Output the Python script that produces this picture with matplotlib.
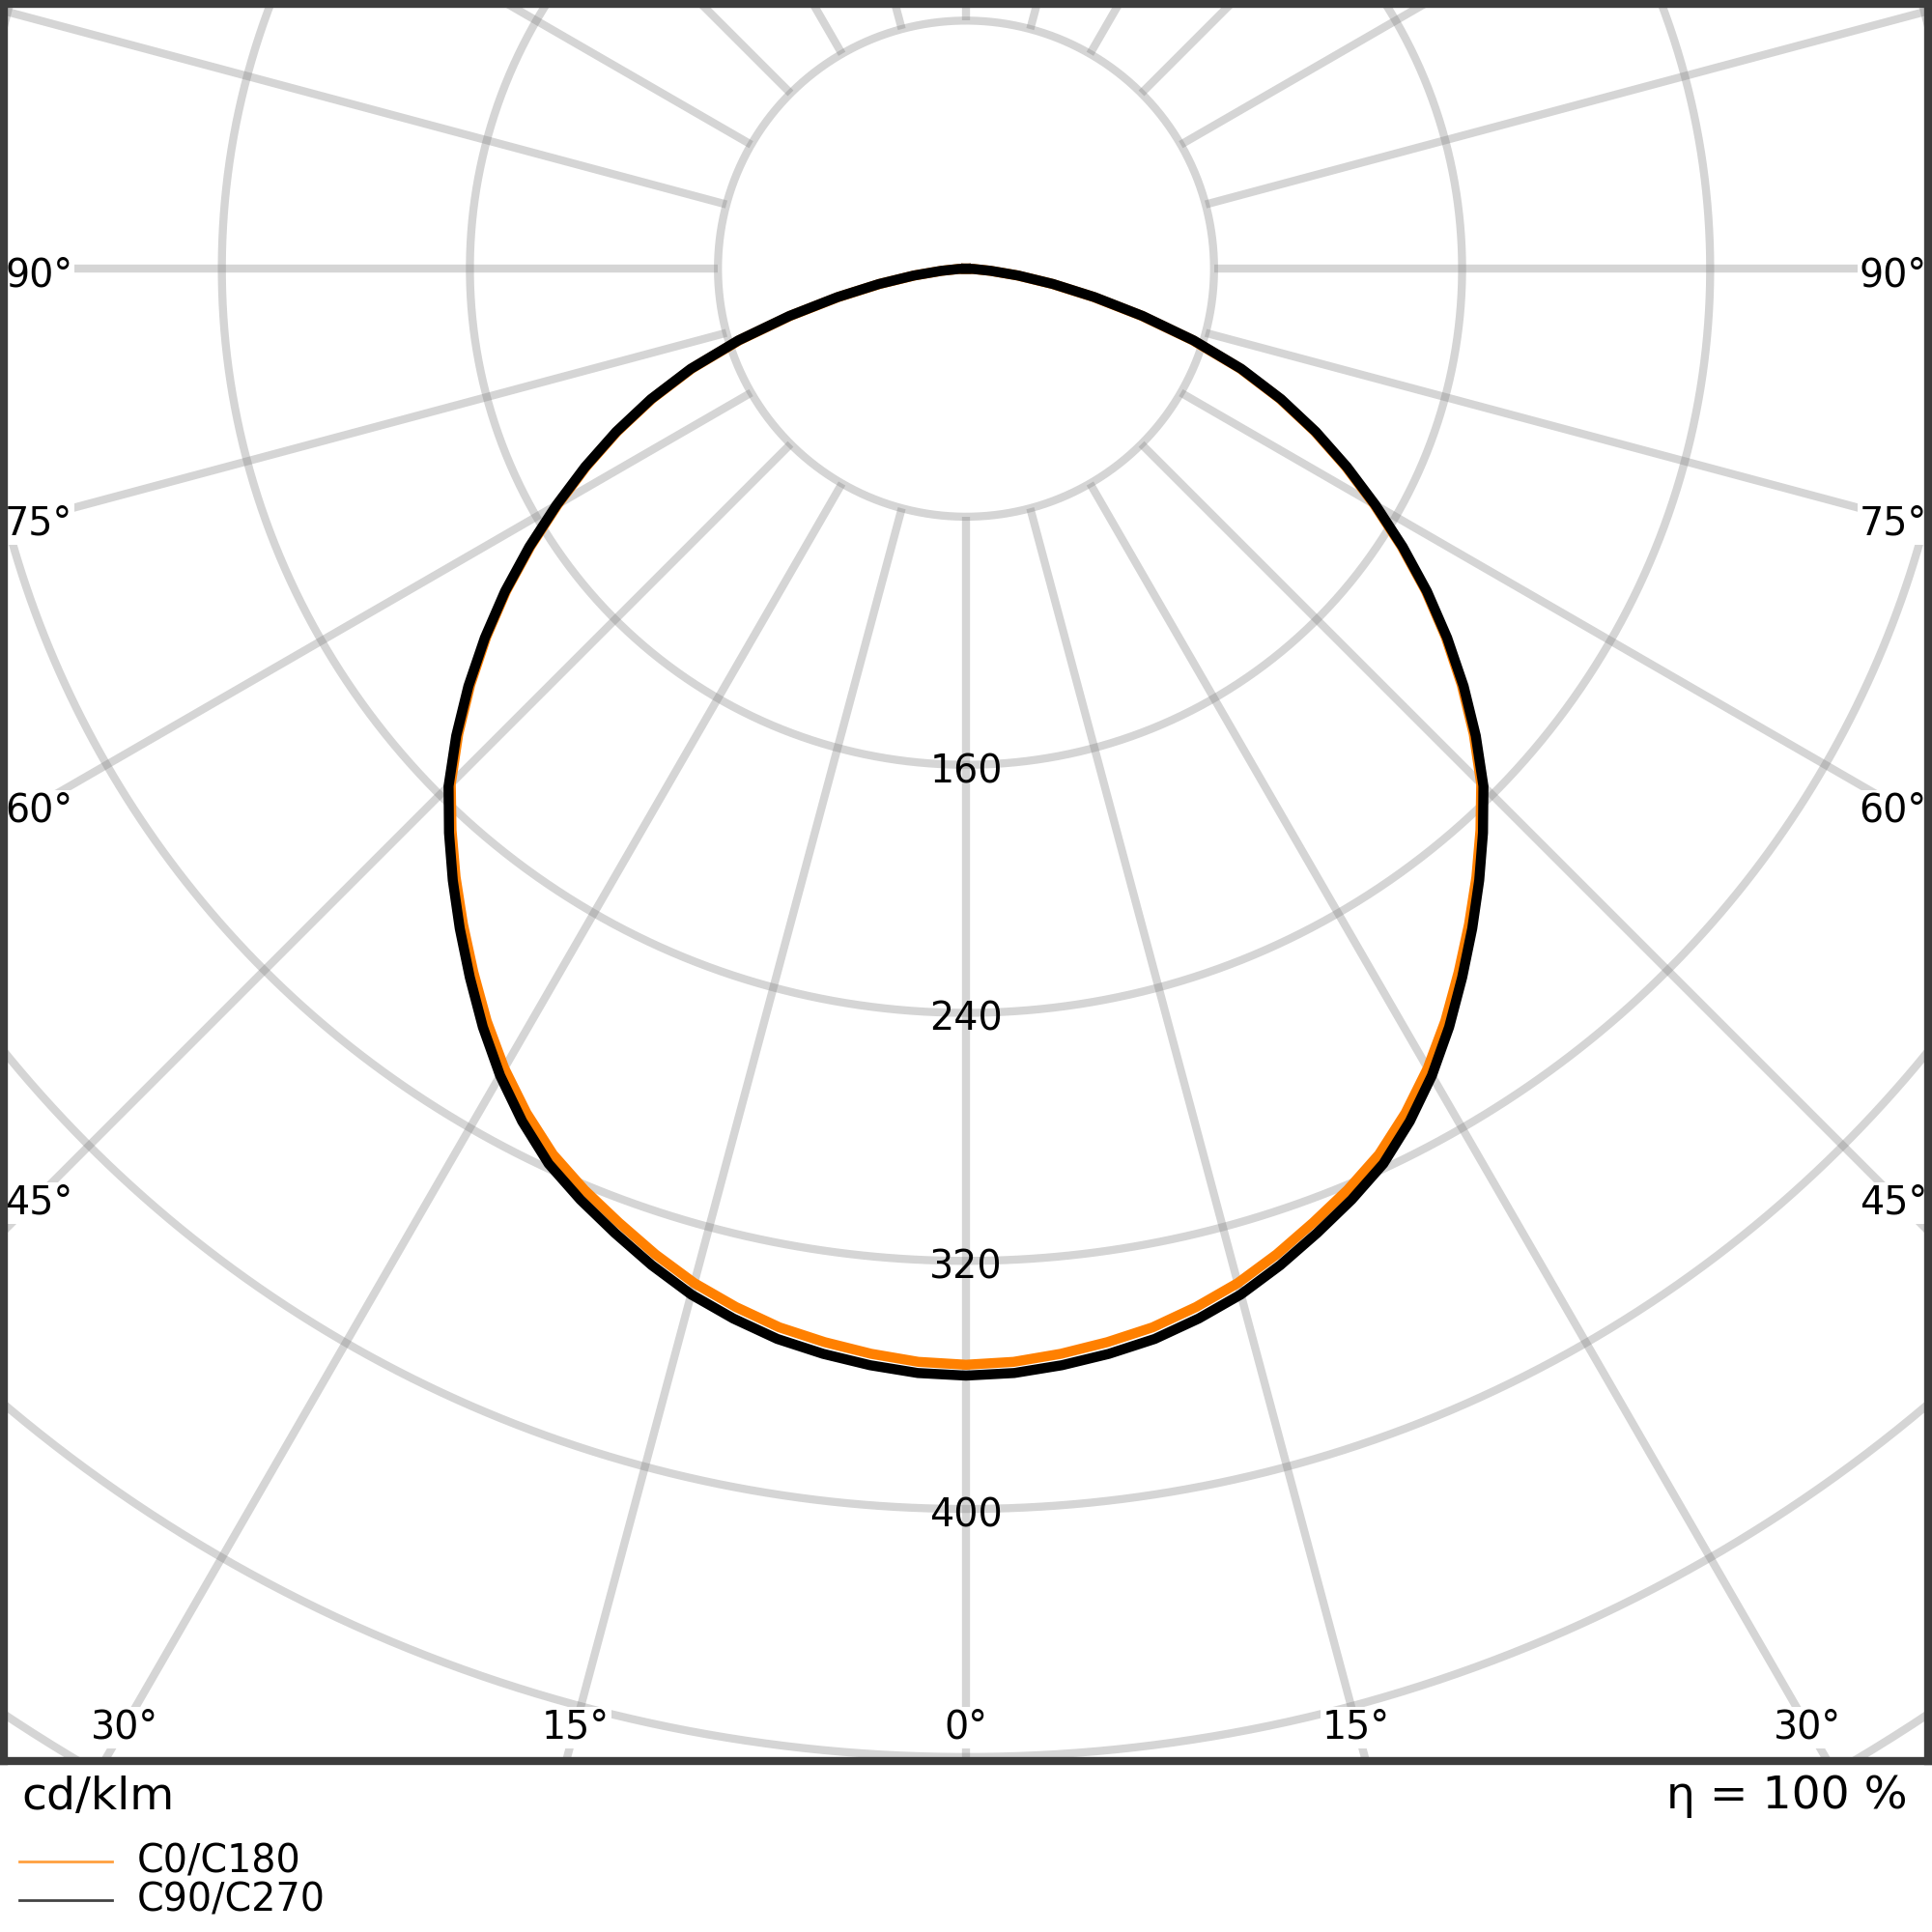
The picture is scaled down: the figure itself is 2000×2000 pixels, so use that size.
import numpy as np
import matplotlib.pyplot as plt
from matplotlib.lines import Line2D

# gamma angle from nadir (deg), values in cd/klm
angles = [0, 2.5, 5, 7.5, 10, 12.5, 15, 17.5, 20, 22.5, 25, 27.5, 30, 32.5, 35,
          37.5, 40, 42.5, 45, 47.5, 50, 52.5, 55, 57.5, 60, 62.5, 65, 67.5, 70,
          72.5, 75, 77.5, 80, 82.5, 85, 87.5, 90]
c0_c180 = [353.5, 352.9, 351.3, 349.2, 346.7, 343.0, 338.7, 333.3, 327.4, 321.6,
           315.2, 307.0, 297.8, 287.7, 277.0, 266.5, 256.1, 245.6, 235.0, 222.1,
           208.7, 195.0, 181.0, 166.5, 152.0, 138.0, 124.0, 109.5, 94.0, 76.5,
           58.5, 42.0, 28.1, 16.7, 7.8, 2.4, 0.0]
c90_c270 = [357.0, 356.5, 355.0, 353.0, 350.5, 346.8, 342.5, 337.0, 331.0, 325.0,
            318.5, 310.0, 300.5, 290.0, 279.0, 268.2, 257.5, 246.8, 236.0, 223.0,
            209.5, 195.6, 181.5, 167.0, 152.5, 138.5, 124.5, 110.0, 94.5, 77.0,
            59.0, 42.5, 28.5, 17.0, 8.0, 2.5, 0.0]

ring_values = [80, 160, 240, 320, 400, 480, 560, 640, 720, 800]
ring_labels = [160, 240, 320, 400]
angle_labels = [0, 15, 30, 45, 60, 75, 90]

grid_kw = dict(color='#808080', alpha=0.33, lw=6, zorder=1, solid_capstyle='butt')


def to_xy(g_deg, r):
    g = np.radians(g_deg)
    return r * np.sin(g), -r * np.cos(g)


fig = plt.figure(figsize=(20, 20), dpi=100)
ax = fig.add_axes([0.002, 0.0885, 0.996, 0.9095])
ax.set_xlim(-310.3, 310.3)
ax.set_ylim(-481.3, 85.4)
ax.set_xticks([])
ax.set_yticks([])
for s in ax.spines.values():
    s.set_linewidth(6)
    s.set_color('#3c3c3c')

# rings
t = np.linspace(0, 2 * np.pi, 1441)
for rv in ring_values:
    ax.plot(rv * np.cos(t), rv * np.sin(t), **grid_kw)

# spokes every 15 deg, starting at the first ring
for a in range(0, 360, 15):
    xs, ys = to_xy(a, np.array([80, 1200]))
    ax.plot(xs, ys, **grid_kw)

# curves (both half planes are the same)
g = np.array(angles, dtype=float)
g_full = np.concatenate([-g[::-1], g[1:]])
for vals, col in [(c0_c180, '#ff8000'), (c90_c270, 'black')]:
    v = np.array(vals, dtype=float)
    v_full = np.concatenate([v[::-1], v[1:]])
    x, y = to_xy(g_full, v_full)
    ax.plot(x, y, color=col, lw=7.5, zorder=3, solid_joinstyle='round')

# ring labels (sit a little below their ring)
for rv in ring_labels:
    ax.text(0, -rv - 2.3, str(rv), ha='center', va='center', fontsize=28.5, zorder=2)

# angle labels along the frame
side_x, bottom_y = 299, 469.8
for a in angle_labels:
    for sgn in ([1] if a == 0 else [-1, 1]):
        if a == 90 or bottom_y * np.tan(np.radians(a)) > side_x:
            lx = sgn * side_x
            ly = (0 if a == 90 else -side_x / np.tan(np.radians(a))) - 2.3
        else:
            lx = sgn * bottom_y * np.tan(np.radians(a))
            ly = -bottom_y - 0.8
        ax.text(lx, ly, f'{a}°', ha='center', va='center', fontsize=28.5, zorder=2,
                bbox=dict(fc='white', ec='none', pad=1))

# texts under the frame
fig.text(0.011, 0.0698, 'cd/klm', fontsize=34, va='center')
fig.text(0.9875, 0.0703, 'η = 100 %', ha='right', va='center', fontsize=34)

# legend
for yy, col, lab in [(1 - 1927 / 2000, '#ffa040', 'C0/C180'),
                     (1 - 1967 / 2000, '#444444', 'C90/C270')]:
    fig.add_artist(Line2D([0.010, 0.058], [yy, yy], transform=fig.transFigure, color=col, lw=2))
    fig.text(0.071, yy, lab, fontsize=28.5, va='center')

fig.savefig('out.png', dpi=100)
